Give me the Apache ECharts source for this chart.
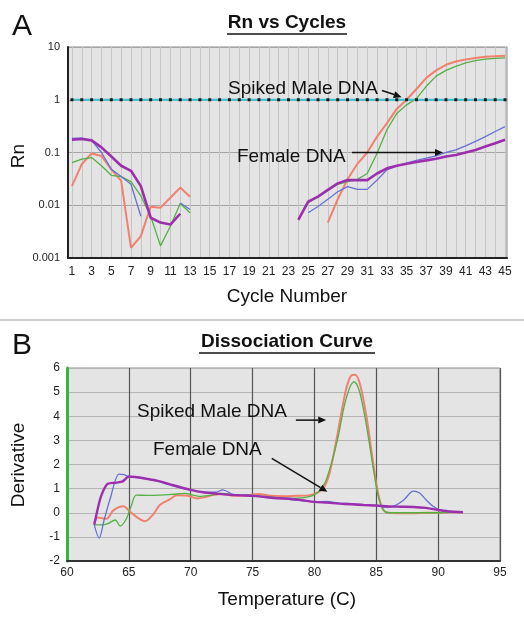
<!DOCTYPE html>
<html><head><meta charset="utf-8">
<script src="https://cdn.jsdelivr.net/npm/echarts@6/dist/echarts.min.js"></script>
<style>html,body{margin:0;padding:0;background:#fff}#c{width:524px;height:626px}</style>
</head><body><div id="c"></div>
<script>
// ---------- Panel A : Rn vs Cycles ----------
const cycles = [1,2,3,4,5,6,7,8,9,10,11,12,13,14,15,16,17,18,19,20,21,22,23,24,25,26,27,28,29,30,31,32,33,34,35,36,37,38,39,40,41,42,43,44,45];
const cycleLabels = [1,3,5,7,9,11,13,15,17,19,21,23,25,27,29,31,33,35,37,39,41,43,45];
const rnRed = [0.023,0.06,0.096,0.086,0.048,0.029,0.00155,0.0026,0.0094,0.009,0.0139,0.0216,0.0145,
  null,null,null,null,null,null,null,null,null,null,null,null,null,
  0.0047,0.013,0.031,0.061,0.1,0.2,0.36,0.67,1.0,1.6,2.6,3.6,4.6,5.3,5.8,6.2,6.5,6.7,6.8];
const rnGreen = [0.064,0.075,0.08,0.056,0.037,0.035,0.028,0.015,0.0062,0.0017,0.004,0.0108,0.0072,
  null,null,null,null,null,null,null,null,null,null,null,
  0.011,0.0146,0.019,0.025,0.028,0.031,0.04,0.097,0.27,0.55,0.8,1.05,1.8,2.8,3.6,4.3,5.0,5.5,5.9,6.1,6.2];
const rnBlue = [0.185,0.19,0.17,0.1,0.048,0.035,0.025,0.0062,null,null,null,0.011,0.0083,
  null,null,null,null,null,null,null,null,null,null,null,
  0.0072,0.0095,0.013,0.018,0.0226,0.02,0.02,0.03,0.047,0.056,0.063,0.071,0.078,0.086,0.1,0.112,0.134,0.162,0.2,0.25,0.31];
const rnPurple = [0.174,0.18,0.17,0.125,0.084,0.056,0.045,0.023,0.0058,0.0047,0.0043,0.0069,
  null,null,null,null,null,null,null,null,null,null,null,
  0.0053,0.0117,0.0146,0.0196,0.026,0.03,0.03,0.03,0.04,0.05,0.056,0.061,0.066,0.071,0.076,0.084,0.09,0.1,0.112,0.13,0.15,0.174];
const threshold = 1;
const rnTicks = ['0.001','0.01','0.1','1','10'];
const arrowMaleA = [[32.5,1.5],[34.5,1.12]];
const arrowFemaleA = [[29.45,0.1],[38.7,0.1]];

// ---------- Panel B : Dissociation Curve ----------
const redT = [62.2,62.5,63.2,63.75,64.55,65.1,65.7,66.3,67.0,67.5,68.3,68.9,69.7,70.5,71.2,71.8,72.5,73.5,74.5,75.5,76.5,77.5,78.5,79.5,80.1,80.7,81.2,81.7,82.2,82.6,83.0,83.3,83.7,84.2,84.6,85.0,85.4,85.8,87,88,89,90,91,92];
const redD = [-0.42,-0.2,-0.25,0.1,0.27,0.04,-0.2,-0.35,-0.05,0.32,0.55,0.73,0.72,0.59,0.65,0.73,0.78,0.7,0.72,0.78,0.7,0.68,0.7,0.72,0.8,1.0,1.6,2.8,4.2,5.2,5.7,5.72,5.3,4.0,2.6,1.2,0.3,0.02,-0.02,-0.02,0.0,0.0,0.02,0.02];
const greenT = [62.2,62.8,63.3,63.9,64.3,64.8,65.2,65.6,66.5,67.5,68.5,69.5,70.7,71.5,72.5,74,75,76,77,78,79,79.8,80.4,80.9,81.4,81.9,82.4,82.9,83.2,83.6,84.0,84.4,84.8,85.2,85.6,86,87,88,89,90,91,92];
const greenD = [-0.5,-0.5,-0.45,-0.3,-0.55,-0.25,0.3,0.73,0.72,0.73,0.76,0.8,0.68,0.72,0.8,0.72,0.72,0.68,0.62,0.6,0.62,0.7,0.9,1.3,2.1,3.1,4.4,5.25,5.43,5.1,4.2,3.0,1.7,0.6,0.1,0.0,0.0,0.0,0.0,0.0,0.02,0.02];
const blueT = [62.2,62.6,63.0,63.5,64.2,64.6,65.0,66.0,67.0,68.0,69.0,70.0,71.0,72.0,72.6,73.5,75,76,77,78,79,80,81,82,83,84,85,85.8,86.5,87.2,88.0,88.5,89.0,89.5,90.2,91,92];
const blueD = [-0.5,-1.05,-0.3,0.6,1.6,1.58,1.5,1.45,1.35,1.2,1.05,0.95,0.85,0.85,0.95,0.75,0.72,0.65,0.62,0.55,0.5,0.45,0.47,0.4,0.38,0.33,0.3,0.22,0.3,0.52,0.9,0.82,0.55,0.3,0.1,0.05,0.02];
const purpleT = [62.2,62.5,62.8,63.3,64.0,64.5,65.0,65.5,66.5,67.5,68.5,70.0,71.0,72.0,73.0,74.0,75.0,76.0,77.0,78.0,79.0,80.0,81.0,82.0,83.0,84.0,85.0,86.0,87.0,88.0,89.0,90.0,91.0,92.0];
const purpleD = [-0.5,0.2,0.75,1.2,1.25,1.3,1.5,1.48,1.4,1.3,1.15,0.95,0.85,0.8,0.75,0.72,0.7,0.65,0.6,0.58,0.52,0.45,0.42,0.38,0.35,0.32,0.3,0.26,0.25,0.24,0.2,0.12,0.05,0.02];
const arrowMaleB = [[78.5,3.84],[80.95,3.84]];
const arrowFemaleB = [[76.55,2.25],[81.05,0.87]];

const FONT = 'Liberation Sans';
const C_RED = '#f2806e', C_GREEN = '#52b044', C_BLUE = '#6670d4', C_PURPLE = '#9b2fae';

function pairs(xs, ys) { return xs.map((x, i) => [x, ys[i] == null ? '-' : ys[i]]); }

const chart = echarts.init(document.getElementById('c'), null, {renderer: 'canvas'});

function lineA(name, vals, color, width) {
  return {name, type: 'line', xAxisIndex: 0, yAxisIndex: 0, data: pairs(cycles, vals),
    showSymbol: false, symbol: 'none', connectNulls: false, animation: false,
    lineStyle: {color, width}, itemStyle: {color}};
}
function lineB(name, xs, ys, color, width) {
  return {name, type: 'line', xAxisIndex: 1, yAxisIndex: 1, data: pairs(xs, ys),
    showSymbol: false, symbol: 'none', smooth: 0.3, animation: false,
    lineStyle: {color, width}, itemStyle: {color}};
}

chart.setOption({
  animation: false,
  grid: [
    {left: 68, top: 47, width: 439, height: 211, show: true, backgroundColor: '#e4e4e4', borderColor: '#8c8c8c', borderWidth: 1},
    {left: 67, top: 368, width: 433, height: 193, show: true, backgroundColor: '#e4e4e4', borderColor: '#8c8c8c', borderWidth: 1}
  ],
  xAxis: [
    {type: 'value', gridIndex: 0, min: 0.6, max: 45.2,
      axisLine: {show: true, onZero: false, lineStyle: {color: '#222', width: 2}},
      axisTick: {show: false, customValues: cycles},
      axisLabel: {customValues: cycleLabels, fontSize: 12, color: '#222', margin: 8, fontFamily: FONT},
      splitLine: {show: true, lineStyle: {color: '#c6c6c6', width: 1}}},
    {type: 'value', gridIndex: 1, min: 60, max: 95, interval: 5,
      axisLine: {show: true, onZero: false, lineStyle: {color: '#333', width: 2}},
      axisTick: {show: false},
      axisLabel: {fontSize: 12, color: '#222', margin: 6, fontFamily: FONT},
      splitLine: {show: true, lineStyle: {color: '#555', width: 1.2}}}
  ],
  yAxis: [
    {type: 'log', gridIndex: 0, logBase: 10, min: 0.001, max: 10,
      axisLine: {show: true, lineStyle: {color: '#222', width: 2}},
      axisTick: {show: false},
      axisLabel: {fontSize: 11, color: '#222', margin: 8, fontFamily: FONT,
        formatter: v => rnTicks[Math.round(Math.log10(v)) + 3]},
      splitLine: {show: true, lineStyle: {color: '#a4a4a4', width: 1}}},
    {type: 'value', gridIndex: 1, min: -2, max: 6, interval: 1,
      axisLine: {show: true, onZero: false, lineStyle: {color: '#3cb43c', width: 3}},
      axisTick: {show: false},
      axisLabel: {fontSize: 12, color: '#222', margin: 7, fontFamily: FONT},
      splitLine: {show: true, lineStyle: {color: '#b4b4b4', width: 1}}}
  ],
  series: [
    lineA('Red', rnRed, C_RED, 2),
    lineA('Green', rnGreen, C_GREEN, 1.3),
    lineA('Blue', rnBlue, C_BLUE, 1.3),
    lineA('Purple', rnPurple, C_PURPLE, 2.6),
    {name: 'Threshold', type: 'line', xAxisIndex: 0, yAxisIndex: 0,
      data: cycles.map(c => [c, threshold]), symbol: 'rect', symbolSize: 3, showSymbol: true,
      lineStyle: {color: '#3cc4d4', width: 2}, itemStyle: {color: '#1a1a1a'}, animation: false, z: 5},
    lineB('RedB', redT, redD, C_RED, 2),
    lineB('GreenB', greenT, greenD, C_GREEN, 1.3),
    lineB('BlueB', blueT, blueD, C_BLUE, 1.3),
    lineB('PurpleB', purpleT, purpleD, C_PURPLE, 2.4)
  ]
});

function arrow(p0, p1) {
  const dx = p1[0] - p0[0], dy = p1[1] - p0[1];
  const L = Math.hypot(dx, dy), ux = dx / L, uy = dy / L;
  const hl = 8, hw = 3.5;
  const bx = p1[0] - ux * hl, by = p1[1] - uy * hl;
  return [
    {type: 'line', shape: {x1: p0[0], y1: p0[1], x2: bx, y2: by}, style: {stroke: '#111', lineWidth: 1.5}, z: 100},
    {type: 'polygon', shape: {points: [[p1[0], p1[1]], [bx - uy * hw, by + ux * hw], [bx + uy * hw, by - ux * hw]]}, style: {fill: '#111'}, z: 100}
  ];
}
function txt(text, x, y, size, opts) {
  opts = opts || {};
  return {type: 'text', x, y, rotation: opts.rotation || 0, z: 100,
    style: {text, fontSize: size, fontFamily: FONT, fontWeight: opts.bold ? 'bold' : 'normal',
      fill: '#111', align: opts.align || 'center', verticalAlign: 'middle'}};
}
const pA = p => chart.convertToPixel({gridIndex: 0}, p);
const pB = p => chart.convertToPixel({gridIndex: 1}, p);

const g = [
  txt('A', 22, 27, 30),
  txt('Rn vs Cycles', 287, 23, 19, {bold: true}),
  {type: 'line', shape: {x1: 227, y1: 34, x2: 347, y2: 34}, style: {stroke: '#111', lineWidth: 1.5}},
  txt('Rn', 19, 156, 19, {rotation: Math.PI / 2}),
  txt('Cycle Number', 287, 297, 19),
  txt('Spiked Male DNA', 228, 89, 19, {align: 'left'}),
  txt('Female DNA', 237, 157, 19, {align: 'left'}),
  {type: 'line', shape: {x1: 0, y1: 320, x2: 524, y2: 320}, style: {stroke: '#9a9a9a', lineWidth: 1}},
  txt('B', 22, 346, 30),
  txt('Dissociation Curve', 287, 342, 19, {bold: true}),
  {type: 'line', shape: {x1: 199, y1: 353, x2: 375, y2: 353}, style: {stroke: '#111', lineWidth: 1.5}},
  txt('Derivative', 19, 465, 19, {rotation: Math.PI / 2}),
  txt('Temperature (C)', 287, 600, 19),
  txt('Spiked Male DNA', 137, 412, 19, {align: 'left'}),
  txt('Female DNA', 153, 450, 19, {align: 'left'})
].concat(
  arrow(pA(arrowMaleA[0]), pA(arrowMaleA[1])),
  arrow(pA(arrowFemaleA[0]), pA(arrowFemaleA[1])),
  arrow(pB(arrowMaleB[0]), pB(arrowMaleB[1])),
  arrow(pB(arrowFemaleB[0]), pB(arrowFemaleB[1]))
);
chart.setOption({graphic: g});
</script>
</body></html>
